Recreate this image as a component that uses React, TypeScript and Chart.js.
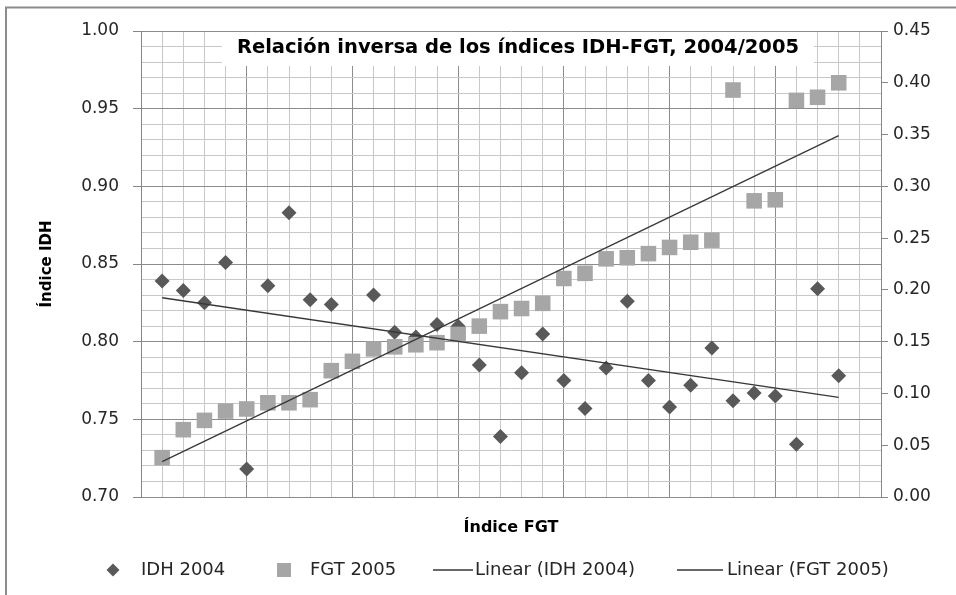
import React, { useEffect, useRef } from 'react';
import { Chart, registerables } from 'chart.js';

Chart.register(...registerables);

// ---- data ----
const xIndex = [1, 2, 3, 4, 5, 6, 7, 8, 9, 10, 11, 12, 13, 14, 15, 16, 17, 18, 19, 20, 21, 22, 23, 24, 25, 26, 27, 28, 29, 30, 31, 32, 33];
const idh2004 = [0.839, 0.833, 0.825, 0.851, 0.718, 0.836, 0.883, 0.827, 0.824, 0.787, 0.830, 0.806, 0.803, 0.811, 0.810, 0.785, 0.739, 0.780, 0.805, 0.775, 0.757, 0.783, 0.826, 0.775, 0.758, 0.772, 0.796, 0.762, 0.767, 0.765, 0.734, 0.834, 0.778];
const fgt2005 = [0.038, 0.065, 0.074, 0.083, 0.085, 0.091, 0.091, 0.094, 0.122, 0.131, 0.143, 0.145, 0.147, 0.149, 0.157, 0.165, 0.179, 0.182, 0.187, 0.211, 0.216, 0.230, 0.231, 0.235, 0.241, 0.246, 0.248, 0.393, 0.286, 0.287, 0.383, 0.386, 0.400];

const seriesNames = ['IDH 2004', 'FGT 2005', 'Linear (IDH 2004)', 'Linear (FGT 2005)'];
const titleText = 'Relación inversa de los índices IDH-FGT, 2004/2005';
const xTitle = 'Índice FGT';
const yTitle = 'Índice IDH';

const FONT = '"DejaVu Sans", Verdana, sans-serif';
const DIAMOND = '#595959';
const SQUARE = '#a6a6a6';
const TREND = '#383838';
const GRID_MAJOR = '#8c8c8c';
const GRID_MINOR = '#c8c8c8';
const AXIS = '#868686';
const TEXT = '#262626';

function linFit(xs: number[], ys: number[]) {
  const n = xs.length;
  let sx = 0, sy = 0, sxx = 0, sxy = 0;
  for (let i = 0; i < n; i++) {
    sx += xs[i]; sy += ys[i]; sxx += xs[i] * xs[i]; sxy += xs[i] * ys[i];
  }
  const b = (n * sxy - sx * sy) / (n * sxx - sx * sx);
  const a = (sy - b * sx) / n;
  const x0 = Math.min(...xs), x1 = Math.max(...xs);
  return [{ x: x0, y: a + b * x0 }, { x: x1, y: a + b * x1 }];
}

const decorPlugin = {
  id: 'decor',
  beforeDatasetsDraw(chart: any) {
    const ctx = chart.ctx;
    ctx.save();
    ctx.fillStyle = '#ffffff';
    ctx.fillRect(222, 32, 592, 34);
    ctx.font = `bold 19.5px ${FONT}`;
    ctx.fillStyle = '#000000';
    ctx.textAlign = 'center';
    ctx.textBaseline = 'middle';
    ctx.fillText(titleText, 518, 48);
    ctx.restore();
  },
  afterDraw(chart: any) {
    const ctx = chart.ctx;
    ctx.save();
    // outer border (chart frame)
    ctx.strokeStyle = '#8c8c8c';
    ctx.lineWidth = 2;
    ctx.beginPath();
    ctx.moveTo(6, 600);
    ctx.lineTo(6, 7.5);
    ctx.lineTo(960, 7.5);
    ctx.stroke();

    // legend
    const ly = 570;
    ctx.font = `18px ${FONT}`;
    ctx.fillStyle = TEXT;
    ctx.textBaseline = 'middle';
    ctx.textAlign = 'left';
    // diamond
    ctx.fillStyle = DIAMOND;
    ctx.beginPath();
    ctx.moveTo(113, ly - 6.5);
    ctx.lineTo(119.5, ly);
    ctx.lineTo(113, ly + 6.5);
    ctx.lineTo(106.5, ly);
    ctx.closePath();
    ctx.fill();
    ctx.fillStyle = TEXT;
    ctx.fillText(seriesNames[0], 141, ly);
    // square
    ctx.fillStyle = SQUARE;
    ctx.fillRect(277, ly - 7, 14, 14);
    ctx.fillStyle = TEXT;
    ctx.fillText(seriesNames[1], 310, ly);
    // lines
    ctx.strokeStyle = TREND;
    ctx.lineWidth = 1.3;
    ctx.beginPath();
    ctx.moveTo(433, ly);
    ctx.lineTo(473, ly);
    ctx.moveTo(677, ly);
    ctx.lineTo(723, ly);
    ctx.stroke();
    ctx.fillText(seriesNames[2], 475, ly);
    ctx.fillText(seriesNames[3], 727, ly);
    ctx.restore();
  },
};

export default function App() {
  const ref = useRef<HTMLCanvasElement | null>(null);

  useEffect(() => {
    document.body.style.margin = '0';
    const canvas = ref.current;
    if (!canvas) return;
    const idhPts = xIndex.map((x, i) => ({ x, y: idh2004[i] }));
    const fgtPts = xIndex.map((x, i) => ({ x, y: fgt2005[i] }));

    const chart = new Chart(canvas, {
      type: 'scatter',
      data: {
        datasets: [
          {
            label: seriesNames[0],
            data: idhPts,
            yAxisID: 'y',
            pointStyle: 'rectRot',
            pointRadius: 7.5,
            backgroundColor: DIAMOND,
            borderWidth: 0,
            order: 2,
          },
          {
            label: seriesNames[1],
            data: fgtPts,
            yAxisID: 'y1',
            pointStyle: 'rect',
            pointRadius: 11,
            backgroundColor: SQUARE,
            borderWidth: 0,
            order: 1,
          },
          {
            label: seriesNames[2],
            data: linFit(xIndex, idh2004),
            yAxisID: 'y',
            showLine: true,
            pointRadius: 0,
            borderColor: TREND,
            borderWidth: 1.3,
            order: 0,
          },
          {
            label: seriesNames[3],
            data: linFit(xIndex, fgt2005),
            yAxisID: 'y1',
            showLine: true,
            pointRadius: 0,
            borderColor: TREND,
            borderWidth: 1.3,
            order: 0,
          },
        ],
      } as any,
      options: {
        animation: false,
        responsive: false,
        events: [],
        layout: { padding: { top: 31, left: 0, right: 0, bottom: 0 } },
        plugins: {
          legend: { display: false },
          tooltip: { enabled: false },
          title: { display: false },
        },
        scales: {
          x: {
            type: 'linear',
            min: 0,
            max: 35,
            ticks: { stepSize: 1, display: false, autoSkip: false },
            grid: {
              color: (c: any) => (Math.round(c.tick.value) % 5 === 0 ? GRID_MAJOR : GRID_MINOR),
              drawTicks: false,
              lineWidth: 1,
            },
            border: { color: GRID_MAJOR },
            title: {
              display: true,
              text: xTitle,
              color: '#000',
              font: { family: FONT, size: 16, weight: 'bold' },
              padding: { top: 0, bottom: 58 },
            },
            afterFit: (s: any) => { s.height = 98; },
          },
          y: {
            type: 'linear',
            position: 'left',
            min: 0.7,
            max: 1.0,
            ticks: {
              stepSize: 0.01,
              autoSkip: false,
              padding: 14,
              color: TEXT,
              font: { family: FONT, size: 17 },
              callback: (v: any) => (Math.round(v * 100) % 5 === 0 ? Number(v).toFixed(2) : ''),
            },
            grid: {
              color: (c: any) => (Math.round(c.tick.value * 100) % 5 === 0 ? GRID_MAJOR : GRID_MINOR),
              tickColor: (c: any) => (Math.round(c.tick.value * 100) % 5 === 0 ? AXIS : 'rgba(0,0,0,0)'),
              tickLength: 8,
              lineWidth: 1,
            },
            border: { color: AXIS },
            title: {
              display: true,
              text: yTitle,
              color: '#000',
              font: { family: FONT, size: 15, weight: 'bold' },
              padding: { top: 38, bottom: 0 },
            },
            afterFit: (s: any) => { s.width = 141; },
          },
          y1: {
            type: 'linear',
            position: 'right',
            min: 0,
            max: 0.45,
            ticks: {
              stepSize: 0.05,
              padding: 5,
              color: TEXT,
              font: { family: FONT, size: 17 },
              callback: (v: any) => Number(v).toFixed(2),
            },
            grid: {
              drawOnChartArea: false,
              tickColor: AXIS,
              tickLength: 7,
            },
            border: { color: AXIS },
            afterFit: (s: any) => { s.width = 75; },
          },
        },
      } as any,
      plugins: [decorPlugin],
    });
    return () => chart.destroy();
  }, []);

  return (
    <div style={{ position: 'absolute', left: 0, top: 0, width: 956, height: 595, background: '#fff' }}>
      <canvas ref={ref} width={956} height={595} style={{ display: 'block' }} />
    </div>
  );
}
